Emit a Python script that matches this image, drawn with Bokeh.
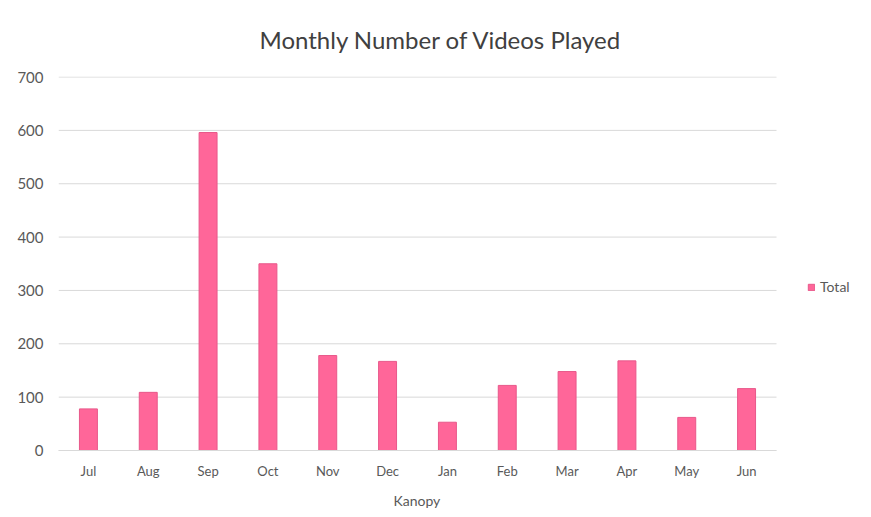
from bokeh.plotting import figure
from bokeh.models import (ColumnDataSource, Legend, LegendItem,
                          Range1d, FixedTicker, Title)
from bokeh.embed import file_html
from bokeh.resources import INLINE

# ---- data ----
months = ["Jul", "Aug", "Sep", "Oct", "Nov", "Dec",
          "Jan", "Feb", "Mar", "Apr", "May", "Jun"]
totals = [78, 109, 596, 350, 178, 167, 53, 122, 148, 168, 62, 116]
y_ticks = [0, 100, 200, 300, 400, 500, 600, 700]
series_name = "Total"
group_label = "Kanopy"
title_text = "Monthly Number of Videos Played"

FONT = "Lato"
TXT = "#595959"
GRID = "#d9d9d9"
BAR = "#ff6699"

W, H = 871, 517
LEFT, TOP, BOTTOM = 58, 74, 65
PLOT_PX = 718                      # width of the bar area
n = len(months)
centres = [i + 0.5 for i in range(n)]          # one slot per month
x_end = n * (W - LEFT) / PLOT_PX               # frame also holds the legend

src = ColumnDataSource(dict(x=centres, month=months, total=totals))
grid_src = ColumnDataSource(dict(y=y_ticks, x0=[0] * len(y_ticks),
                                 x1=[n] * len(y_ticks)))

p = figure(width=W, height=H,
           x_range=Range1d(0, x_end),
           y_range=Range1d(0, 701),
           output_backend="svg", toolbar_location=None,
           min_border_left=LEFT, min_border_right=0,
           min_border_top=TOP, min_border_bottom=BOTTOM)
p.outline_line_color = None

# title
p.title.text = title_text
p.title.align = "left"
p.title.offset = 201
p.title.standoff = 45
p.title.text_font = FONT
p.title.text_font_size = "24px"
p.title.text_font_style = "normal"
p.title.text_color = "#404040"

# horizontal gridlines limited to the bar area
p.xgrid.grid_line_color = None
p.ygrid.grid_line_color = None
p.segment(x0="x0", x1="x1", y0="y", y1="y", source=grid_src,
          line_color=GRID, line_width=1)

r = p.vbar(x="x", top="total", width=0.3, source=src,
           fill_color=BAR, line_color="#e8588a", line_width=1)

# y axis
p.yaxis.ticker = y_ticks
p.yaxis.axis_line_color = None
p.yaxis.major_tick_line_color = None
p.yaxis.major_tick_out = 0
p.yaxis.minor_tick_line_color = None
p.yaxis.major_label_standoff = 15
p.yaxis.major_label_text_font = FONT
p.yaxis.major_label_text_font_size = "15px"
p.yaxis.major_label_text_color = TXT

# x axis: month labels at slot centres
xaxis = p.xaxis[0]
xaxis.bounds = (0, n)
xaxis.ticker = FixedTicker(ticks=centres)
xaxis.major_label_overrides = {c: m for c, m in zip(centres, months)}
xaxis.axis_line_color = GRID
xaxis.major_tick_line_color = None
xaxis.major_tick_out = 0
xaxis.major_tick_in = 0
xaxis.minor_tick_line_color = None
xaxis.minor_tick_out = 0
xaxis.minor_tick_in = 0
xaxis.major_label_standoff = 12
xaxis.major_label_text_font = FONT
xaxis.major_label_text_font_size = "13px"
xaxis.major_label_text_color = TXT

# group label under the month labels, centred on the bar area
p.add_layout(Title(text=group_label, align="left", offset=335, standoff=17,
                   text_font=FONT, text_font_size="14px",
                   text_font_style="normal", text_color=TXT), "below")

legend = Legend(items=[LegendItem(label=series_name, renderers=[r])],
                location=(749, 155), padding=0, margin=0, spacing=0,
                glyph_width=8, glyph_height=8, label_height=14,
                label_standoff=5, label_text_font=FONT,
                label_text_font_size="14px", label_text_color=TXT,
                border_line_color=None, background_fill_alpha=0)
p.add_layout(legend)

open("out.html", "w").write(file_html(p, INLINE))
